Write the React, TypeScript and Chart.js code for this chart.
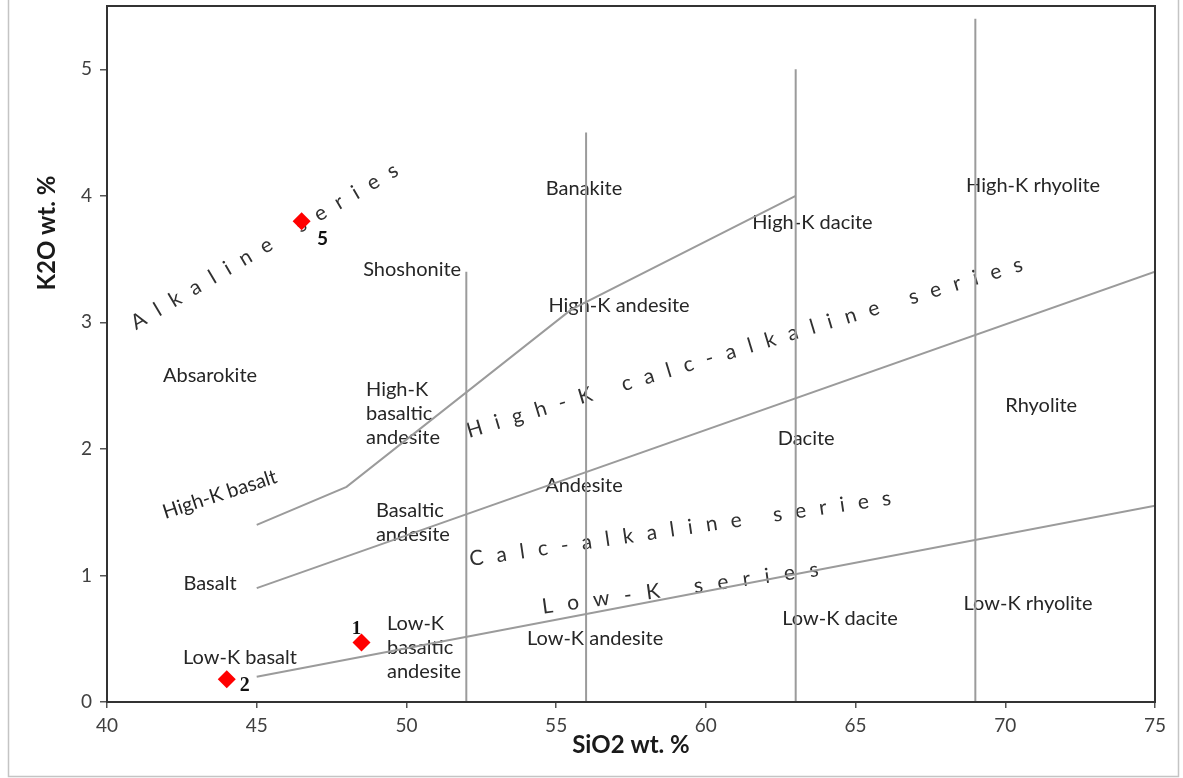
import React, { useEffect, useRef } from 'react';
import { Chart, registerables } from 'chart.js';

Chart.register(...registerables);

// ---- Sample points ----
const sampleNames = ['1', '2', '5'];
const sampleSiO2 = [48.5, 44.0, 46.5];
const sampleK2O = [0.47, 0.18, 3.8];

// ---- Series boundaries ----
const shoshoniteLineSiO2 = [45, 48, 55.5, 63];
const shoshoniteLineK2O = [1.4, 1.7, 3.1, 4.0];
const highKLineSiO2 = [45, 75];
const highKLineK2O = [0.9, 3.4];
const lowKLineSiO2 = [45, 75];
const lowKLineK2O = [0.2, 1.55];
const dividerSiO2 = [52, 56, 63, 69];
const dividerTopK2O = [3.4, 4.5, 5.0, 5.4];

// ---- Axis ticks ----
const xTickValues = [40, 45, 50, 55, 60, 65, 70, 75];
const yTickValues = [0, 1, 2, 3, 4, 5];

// ---- Rock field names (anchor in data units) ----
const fieldNames = [
  'Absarokite', 'High-K basalt', 'Basalt', 'Low-K basalt',
  'Shoshonite', 'High-K\nbasaltic\nandesite', 'Basaltic\nandesite', 'Low-K\nbasaltic\nandesite',
  'Banakite', 'High-K andesite', 'Andesite', 'Low-K andesite',
  'High-K dacite', 'Dacite', 'Low-K dacite',
  'High-K rhyolite', 'Rhyolite', 'Low-K rhyolite',
];
const fieldSiO2 = [
  43.44, 43.77, 43.44, 44.44,
  50.19, 48.65, 48.98, 49.35,
  55.93, 57.10, 55.93, 56.30,
  63.56, 63.35, 64.48,
  70.93, 71.2, 70.76,
];
const fieldK2O = [
  2.58, 1.64, 0.94, 0.35,
  3.42, 2.28, 1.42, 0.43,
  4.06, 3.13, 1.71, 0.50,
  3.79, 2.08, 0.66,
  4.08, 2.34, 0.78,
];

// ---- Magma series names ----
const seriesNames = ['Alkaline series', 'High-K calc-alkaline series', 'Calc-alkaline series', 'Low-K series'];
const seriesSiO2 = [45.26, 61.29, 59.14, 59.14];
const seriesK2O = [3.60, 2.80, 1.37, 0.90];

// ---- Styles ----
const FONT = 'Lato, "Open Sans", sans-serif';
const fieldRotation = [0, -18, 0, 0, 0, 0, 0, 0, 0, 0, 0, 0, 0, 0, 0, 0, 0, 0];
const seriesRotation = [-30.6, -16.8, -8.3, -7.8];
const seriesSpacing = [12.5, 13, 13.2, 14.5];
const sampleLabelOffset = [[-5, -13], [18, 7], [21, 18]];
const sampleLabelFont = [
  'bold 19px "Liberation Serif", serif',
  'bold 20px "Liberation Serif", serif',
  `bold 19px ${FONT}`,
];

function drawSpaced(ctx: CanvasRenderingContext2D, text: string, spacing: number) {
  const chars = Array.from(text);
  const widths = chars.map((c) => ctx.measureText(c).width);
  const total = widths.reduce((a, b) => a + b, 0) + spacing * (chars.length - 1);
  let cx = -total / 2;
  ctx.textAlign = 'left';
  chars.forEach((c, i) => {
    ctx.fillText(c, cx, 0);
    cx += widths[i] + spacing;
  });
}

const annotationPlugin = {
  id: 'annotations',
  beforeDatasetsDraw(chart: any) {
    const { ctx, scales } = chart;
    const x = scales.x;
    const y = scales.y;
    ctx.save();
    ctx.fillStyle = '#262626';
    ctx.font = `20px ${FONT}`;
    ctx.textBaseline = 'middle';
    fieldNames.forEach((name, i) => {
      const px = x.getPixelForValue(fieldSiO2[i]);
      const py = y.getPixelForValue(fieldK2O[i]);
      const lines = name.split('\n');
      ctx.save();
      ctx.translate(px, py);
      ctx.rotate((fieldRotation[i] * Math.PI) / 180);
      ctx.textAlign = lines.length > 1 ? 'left' : 'center';
      lines.forEach((ln, j) => ctx.fillText(ln, 0, (j - (lines.length - 1) / 2) * 24));
      ctx.restore();
    });
    ctx.fillStyle = '#303030';
    ctx.font = `21px ${FONT}`;
    seriesNames.forEach((name, i) => {
      const px = x.getPixelForValue(seriesSiO2[i]);
      const py = y.getPixelForValue(seriesK2O[i]);
      ctx.save();
      ctx.translate(px, py);
      ctx.rotate((seriesRotation[i] * Math.PI) / 180);
      drawSpaced(ctx, name, seriesSpacing[i]);
      ctx.restore();
    });
    ctx.restore();
  },
  afterDraw(chart: any) {
    const { ctx, chartArea, scales } = chart;
    const x = scales.x;
    const y = scales.y;
    ctx.save();
    // plot frame
    ctx.strokeStyle = '#333333';
    ctx.lineWidth = 2;
    ctx.strokeRect(chartArea.left, chartArea.top, chartArea.right - chartArea.left, chartArea.bottom - chartArea.top);
    // sample labels
    ctx.fillStyle = '#111111';
    ctx.textAlign = 'center';
    ctx.textBaseline = 'middle';
    sampleNames.forEach((n, i) => {
      const px = x.getPixelForValue(sampleSiO2[i]);
      const py = y.getPixelForValue(sampleK2O[i]);
      ctx.font = sampleLabelFont[i];
      ctx.fillText(n, px + sampleLabelOffset[i][0], py + sampleLabelOffset[i][1]);
    });
    // axis titles
    ctx.fillStyle = '#1a1a1a';
    ctx.font = `bold 24px ${FONT}`;
    ctx.fillText('SiO2 wt. %', (chartArea.left + chartArea.right) / 2, 745);
    ctx.save();
    ctx.translate(47, 233);
    ctx.rotate(-Math.PI / 2);
    ctx.fillText('K2O wt. %', 0, 0);
    ctx.restore();
    // outer figure frame
    ctx.strokeStyle = '#c4c4c4';
    ctx.lineWidth = 1.5;
    ctx.beginPath();
    ctx.moveTo(8.5, 0);
    ctx.lineTo(8.5, 776.5);
    ctx.lineTo(1178.5, 776.5);
    ctx.lineTo(1178.5, 0);
    ctx.stroke();
    ctx.restore();
  },
};

const lineStyle = {
  showLine: true,
  pointRadius: 0,
  pointHoverRadius: 0,
  borderColor: '#9b9b9b',
  borderWidth: 2,
  fill: false,
  tension: 0,
};

const toPts = (xs: number[], ys: number[]) => xs.map((v, i) => ({ x: v, y: ys[i] }));

export default function App() {
  const canvasRef = useRef<HTMLCanvasElement | null>(null);

  useEffect(() => {
    if (!canvasRef.current) return;
    const tickFont = { family: FONT, size: 19 };
    const chart = new Chart(canvasRef.current, {
      type: 'scatter',
      data: {
        datasets: [
          {
            label: 'Samples',
            data: toPts(sampleSiO2, sampleK2O),
            pointStyle: 'rectRot',
            pointRadius: 9,
            pointHoverRadius: 9,
            backgroundColor: '#ff0000',
            borderColor: '#ff0000',
            borderWidth: 0,
            showLine: false,
          } as any,
          { label: 'Shoshonite boundary', data: toPts(shoshoniteLineSiO2, shoshoniteLineK2O), ...lineStyle },
          { label: 'High-K boundary', data: toPts(highKLineSiO2, highKLineK2O), ...lineStyle },
          { label: 'Low-K boundary', data: toPts(lowKLineSiO2, lowKLineK2O), ...lineStyle },
          ...dividerSiO2.map((v, i) => ({
            label: `Divider ${v}`,
            data: toPts([v, v], [0, dividerTopK2O[i]]),
            ...lineStyle,
          })),
        ],
      },
      options: {
        animation: false,
        responsive: false,
        devicePixelRatio: 1,
        layout: { autoPadding: false, padding: { left: 8, top: 6, right: 28, bottom: 0 } },
        plugins: {
          legend: { display: false },
          tooltip: { enabled: false },
        },
        scales: {
          x: {
            type: 'linear',
            min: 40,
            max: 75,
            afterBuildTicks: (s: any) => {
              s.ticks = xTickValues.map((v) => ({ value: v }));
            },
            afterFit: (s: any) => {
              s.height = 76;
              s.paddingLeft = 0;
              s.paddingRight = 0;
            },
            ticks: { font: tickFont, color: '#404040', padding: 6, maxRotation: 0 },
            grid: { display: true, drawOnChartArea: false, drawTicks: true, tickLength: 6, color: '#555555', lineWidth: 1.5 },
            border: { display: true, color: '#333333', width: 2 },
          },
          y: {
            type: 'linear',
            min: 0,
            max: 5.5,
            afterBuildTicks: (s: any) => {
              s.ticks = yTickValues.map((v) => ({ value: v }));
            },
            afterFit: (s: any) => {
              s.width = 99;
              s.paddingTop = 0;
              s.paddingBottom = 0;
            },
            ticks: { font: tickFont, color: '#404040', padding: 8 },
            grid: { display: true, drawOnChartArea: false, drawTicks: true, tickLength: 7, color: '#555555', lineWidth: 1.5 },
            border: { display: true, color: '#333333', width: 2 },
          },
        },
      } as any,
      plugins: [annotationPlugin],
    });
    return () => chart.destroy();
  }, []);

  return (
    <div style={{ position: 'fixed', left: 0, top: 0, width: 1183, height: 778, background: '#ffffff' }}>
      <canvas ref={canvasRef} width={1183} height={778} style={{ width: 1183, height: 778, display: 'block' }} />
    </div>
  );
}
